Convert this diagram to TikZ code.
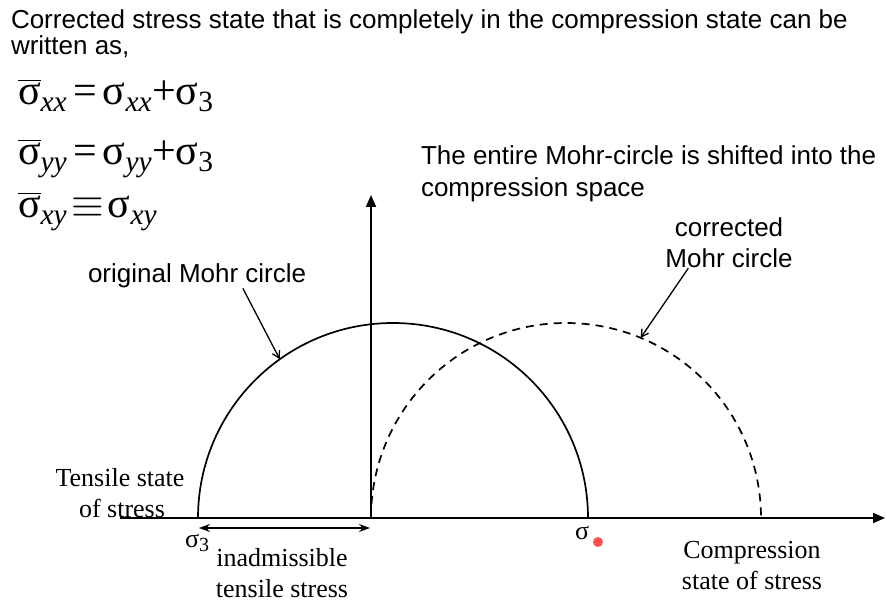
\RequirePackage{fix-cm}
\documentclass[tikz,border=0pt]{standalone}
\usepackage{amsmath}
\usepackage{fontspec}
\newfontfamily\arialfont{Liberation Sans}
\newfontfamily\timesfont{Liberation Serif}
\usetikzlibrary{arrows.meta,calc}

\begin{document}
\begin{tikzpicture}[
x=1pt,y=1pt,
every node/.style={inner sep=0pt,outer sep=0pt},
sanslbl/.style={font=\arialfont\fontsize{26}{31}\selectfont,anchor=base west},
seriflbl/.style={font=\timesfont\fontsize{26}{31}\selectfont,anchor=base},
eqlbl/.style={font=\timesfont\fontsize{42}{48}\selectfont,anchor=base west},
axis/.style={line width=1.9pt,-{Triangle[length=12pt,width=10pt]}},
mohr/.style={line width=1.7pt},
shifted/.style={mohr,dash pattern=on 8pt off 6pt},
pointer/.style={-{Straight Barb[length=7pt,width=8pt]},line width=1.3pt},
span/.style={{Stealth[length=11pt,width=8pt]}-{Stealth[length=11pt,width=8pt]},line width=1.4pt}
]
\useasboundingbox (0,0) rectangle (886,602);

% statement and corrected components
\node[sanslbl] (intro1) at (11,573) {Corrected stress state that is completely in the compression state can be};
\node[sanslbl] (intro2) at (11,547) {written as,};
\node[eqlbl] (eqxx) at (18,497) {$\overline{\text{σ}}_{\textit{xx}}$\hspace{6pt}=\hspace{6pt}σ$_{\textit{xx}}$+σ$_{\text{3}}$};
\node[eqlbl] (eqyy) at (18,437) {$\overline{\text{σ}}_{\textit{yy}}$\hspace{6pt}=\hspace{6pt}σ$_{\textit{yy}}$+σ$_{\text{3}}$};
\node[eqlbl] (eqxy) at (18,384) {$\overline{\text{σ}}_{\textit{xy}}$\hspace{4pt}$\equiv$\hspace{4pt}σ$_{\textit{xy}}$};

% axes
\coordinate (O) at (371,84);
\coordinate (xstart) at (120,84);
\coordinate (xend) at (885,84);
\coordinate (ytop) at (371,407);
\draw[axis] (xstart) -- (xend);
\draw[axis] (O) -- (ytop);

% Mohr circles
\coordinate (s3) at (198,84);
\coordinate (origc) at (393,84);
\coordinate (corrc) at (566,84);
\draw[mohr] (s3) arc[start angle=180,end angle=0,radius=195];
\draw[shifted] (O) arc[start angle=180,end angle=0,radius=195];
\coordinate (origpt) at ($(origc)+(125.5:195)$);
\coordinate (corrpt) at ($(corrc)+(67.5:195)$);

% labels
\node[sanslbl] (shift1) at (421,437) {The entire Mohr-circle is shifted into the};
\node[sanslbl] (shift2) at (421,405) {compression space};
\node[sanslbl,anchor=base] (corr1) at (729,365) {corrected};
\node[sanslbl,anchor=base] (corrlbl) at (729,334) {Mohr circle};
\node[sanslbl] (origlbl) at (88,319) {original Mohr circle};
\draw[pointer] ($(origlbl.south west)!0.71!(origlbl.south east)$) -- (origpt);
\draw[pointer] ($(corrlbl.south west)!0.18!(corrlbl.south east)$) -- (corrpt);

\node[seriflbl] (tens1) at (120,115) {Tensile state};
\node[seriflbl] (tens2) at (122,84) {of stress};
\node[seriflbl] (inad1) at (282,35) {inadmissible};
\node[seriflbl] (inad2) at (282,4) {tensile stress};
\node[seriflbl] (comp1) at (752,43) {Compression};
\node[seriflbl] (comp2) at (752,12) {state of stress};
\node[seriflbl,anchor=base west] (sig3) at (185,54) {σ\raisebox{-4pt}{\fontsize{20}{20}\selectfont 3}};
\node[seriflbl,anchor=base west] (sig1) at (575,62) {σ};
\node[circle,fill=red!80,opacity=0.85,minimum size=10pt] (dot) at (598,60) {};
\draw[span] ($(s3)+(1,-10)$) -- ($(O)+(-1,-10)$);
\end{tikzpicture}
\end{document}
